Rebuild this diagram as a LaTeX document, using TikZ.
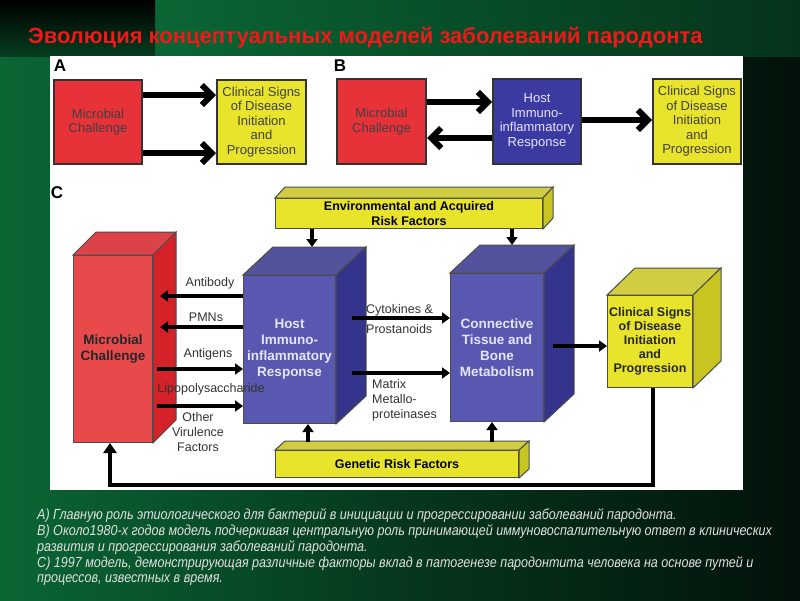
\documentclass[tikz,border=0pt]{standalone}
\usepackage{fontspec}
\setmainfont{Liberation Sans}
\newfontfamily\capfont{Liberation Sans}[FakeStretch=0.86]
\usetikzlibrary{calc,arrows.meta}
\definecolor{bred}{HTML}{E8323A}
\definecolor{cred}{HTML}{E84A4C}
\definecolor{cred2}{HTML}{D42228}
\definecolor{byel}{HTML}{E8E42C}
\definecolor{byel2}{HTML}{C8C420}
\definecolor{bblue}{HTML}{3A3AA0}
\definecolor{cblue}{HTML}{5858B0}
\definecolor{cblue2}{HTML}{34348C}
\definecolor{gdark}{HTML}{03120A}
\definecolor{ggreen}{HTML}{0A6634}
\definecolor{ttl}{HTML}{F01818}
\tikzset{
 flat/.style={draw=black!80,line width=2pt,font=\fontsize{13}{14.5}\selectfont,align=center,inner sep=1pt},
 fb/.style={draw=black!70,line width=1pt,align=center,inner sep=1pt},
 fat/.style={line width=6pt,-{Straight Barb[length=10pt,width=20pt]}},
 thk/.style={line width=4pt,-{Triangle[length=8pt,width=11pt]}},
 lab/.style={font=\fontsize{12.5}{15}\selectfont,text=black!80,inner sep=0pt},
 cbf/.style={font=\bfseries\fontsize{12.5}{15}\selectfont,align=center,inner sep=0pt},
 captxt/.style={anchor=west,inner sep=0pt,text=white!88!black,font=\capfont\itshape\fontsize{14.6}{17}\selectfont}
}
\newcommand\cube[9]{%
 \node[fb,fill=#8,minimum width={(#4-#2)*1pt},minimum height={(#5-#3)*1pt},anchor=north west] (#1) at (#2,#3) {};
 \fill[#9!85!white,draw=black!70,line width=1pt] (#1.north west) -- ++(#6,#7) -- ($(#1.north east)+(#6,#7)$) -- (#1.north east) -- cycle;
 \fill[#9,draw=black!70,line width=1pt] (#1.north east) -- ++(#6,#7) -- ($(#1.south east)+(#6,#7)$) -- (#1.south east) -- cycle;
}
\begin{document}
\begin{tikzpicture}[x=1pt,y=-1pt]
\useasboundingbox (0,0) rectangle (800,600);
\shade[left color=ggreen,right color=gdark,middle color=ggreen!45!gdark] (0,0) rectangle (800,600);
\shade[left color=ggreen,right color=ggreen!40!gdark] (155,0) rectangle (800,56);
\shade[top color=black,bottom color=ggreen!60!black] (0,0) rectangle (155,56);
\fill[white] (50,56) rectangle (743,490);
\node[anchor=west,inner sep=0pt,text=ttl,font=\bfseries\fontsize{22}{26}\selectfont] (title) at (28,38) {Эволюция концептуальных  моделей заболеваний пародонта};
\node[font=\bfseries\fontsize{17}{18}\selectfont,inner sep=0pt] (la) at (60,66) {A};
\node[font=\bfseries\fontsize{17}{18}\selectfont,inner sep=0pt] (lb) at (340,66) {B};
\node[font=\bfseries\fontsize{17}{18}\selectfont,inner sep=0pt] (lc) at (57,193) {C};
% Panel A
\node[flat,fill=bred,minimum width=88pt,minimum height=84pt,anchor=north west,text=black!75] (am) at (53,79) {Microbial\\Challenge};
\node[flat,fill=byel,minimum width=89pt,minimum height=84pt,anchor=north west,text=black!75] (ac) at (216,79) {Clinical Signs\\of Disease\\Initiation\\and\\Progression};
\draw[fat] (am.east |- 0,95) -- (ac.west |- 0,95);
\draw[fat] (am.east |- 0,153) -- (ac.west |- 0,153);
% Panel B
\node[flat,fill=bred,minimum width=89pt,minimum height=85pt,anchor=north west,text=black!75] (bm) at (336,78) {Microbial\\Challenge};
\node[flat,fill=bblue,minimum width=88pt,minimum height=85pt,anchor=north west,text=white!90!blue] (bh) at (492,78) {Host\\Immuno-\\inflammatory\\Response};
\node[flat,fill=byel,minimum width=88pt,minimum height=85pt,anchor=north west,text=black!75] (bc) at (652,78) {Clinical Signs\\of Disease\\Initiation\\and\\Progression};
\draw[fat] (bm.east |- 0,102) -- (bh.west |- 0,102);
\draw[fat] (bh.west |- 0,138) -- (bm.east |- 0,138);
\draw[fat] (bh.east |- 0,120) -- (bc.west |- 0,120);
% Panel C cubes
\cube{env}{275}{198}{542}{228}{10}{-11}{byel}{byel2}
\node[cbf] (envt) at (env) {Environmental and Acquired\\Risk Factors};
\cube{gen}{275}{450}{518}{477}{10}{-9}{byel}{byel2}
\node[cbf] (gent) at (gen) {Genetic Risk Factors};
\cube{mc}{73}{255}{152}{442}{23}{-23}{cred}{cred2}
\node[cbf,font=\bfseries\fontsize{13.5}{16}\selectfont,text=black!85] (mct) at (mc) {Microbial\\Challenge};
\cube{hr}{243}{275}{335}{423}{30}{-28}{cblue}{cblue2}
\node[cbf,font=\bfseries\fontsize{13.5}{16}\selectfont,text=white!90!blue] (hrt) at (hr) {Host\\Immuno-\\inflammatory\\Response};
\cube{ct}{450}{273}{543}{421}{30}{-28}{cblue}{cblue2}
\node[cbf,font=\bfseries\fontsize{13.5}{16}\selectfont,text=white!90!blue] (ctt) at (ct) {Connective\\Tissue and\\Bone\\Metabolism};
\cube{cc}{607}{295}{692}{387}{28}{-27}{byel}{byel2}
\node[cbf,font=\bfseries\fontsize{12.5}{14}\selectfont,text=black!85] (cct) at (cc) {Clinical Signs\\of Disease\\Initiation\\and\\Progression};
% arrows C
\coordinate (hrtop) at (312,247);
\coordinate (cttop) at (512,245);
\coordinate (g1) at (308,442);
\coordinate (g2) at (492,442);
\draw[thk] (env.south -| hrtop) -- (hrtop);
\draw[thk] (env.south -| cttop) -- (cttop);
\draw[thk] (g1) -- (hr.south -| g1);
\draw[thk] (g2) -- (ct.south -| g2);
\draw[thk] (hr.west |- 0,296) -- (160,296);
\draw[thk] (hr.west |- 0,327) -- (160,327);
\draw[thk] (157,369) -- (hr.west |- 0,369);
\draw[thk] (157,406) -- (hr.west |- 0,406);
\draw[thk] (352,318) -- (ct.west |- 0,318);
\draw[thk] (352,373) -- (ct.west |- 0,373);
\draw[thk] (553,346) -- (cc.west |- 0,346);
\coordinate (fb1) at (653,485);
\coordinate (fb2) at (110,485);
\draw[thk,-{Triangle[length=10pt,width=13pt]}] (cc.south -| fb1) -- (fb1) -- (fb2) -- (mc.south -| fb2);
% labels C
\node[lab] (l1) at (210,283) {Antibody};
\node[lab] (l2) at (206,317) {PMNs};
\node[lab] (l3) at (208,354) {Antigens};
\node[lab] (l4) at (211,389) {Lipopolysaccharide};
\node[lab,align=center] (l5) at (198,432) {Other\\Virulence\\Factors};
\node[lab,anchor=west] (l6) at (366,310) {Cytokines \&};
\node[lab,anchor=west] (l7) at (366,329) {Prostanoids};
\node[lab,anchor=west,align=left] (l8) at (372,400) {Matrix\\Metallo-\\proteinases};
% caption
\node[captxt] (c1) at (37,516) {A) Главную роль этиологического  для бактерий  в инициации  и прогрессировании  заболеваний  пародонта.};
\node[captxt] (c2) at (37,532) {B) Около1980-х  годов модель подчеркивая  центральную  роль принимающей  иммуновоспалительную  ответ в клинических};
\node[captxt] (c3) at (37,548) {развития и прогрессирования  заболеваний  пародонта.};
\node[captxt] (c4) at (37,564) {C) 1997 модель, демонстрирующая  различные факторы  вклад в патогенезе  пародонтита  человека на основе путей  и};
\node[captxt] (c5) at (37,580) {процессов,  известных в время.};
\end{tikzpicture}
\end{document}
